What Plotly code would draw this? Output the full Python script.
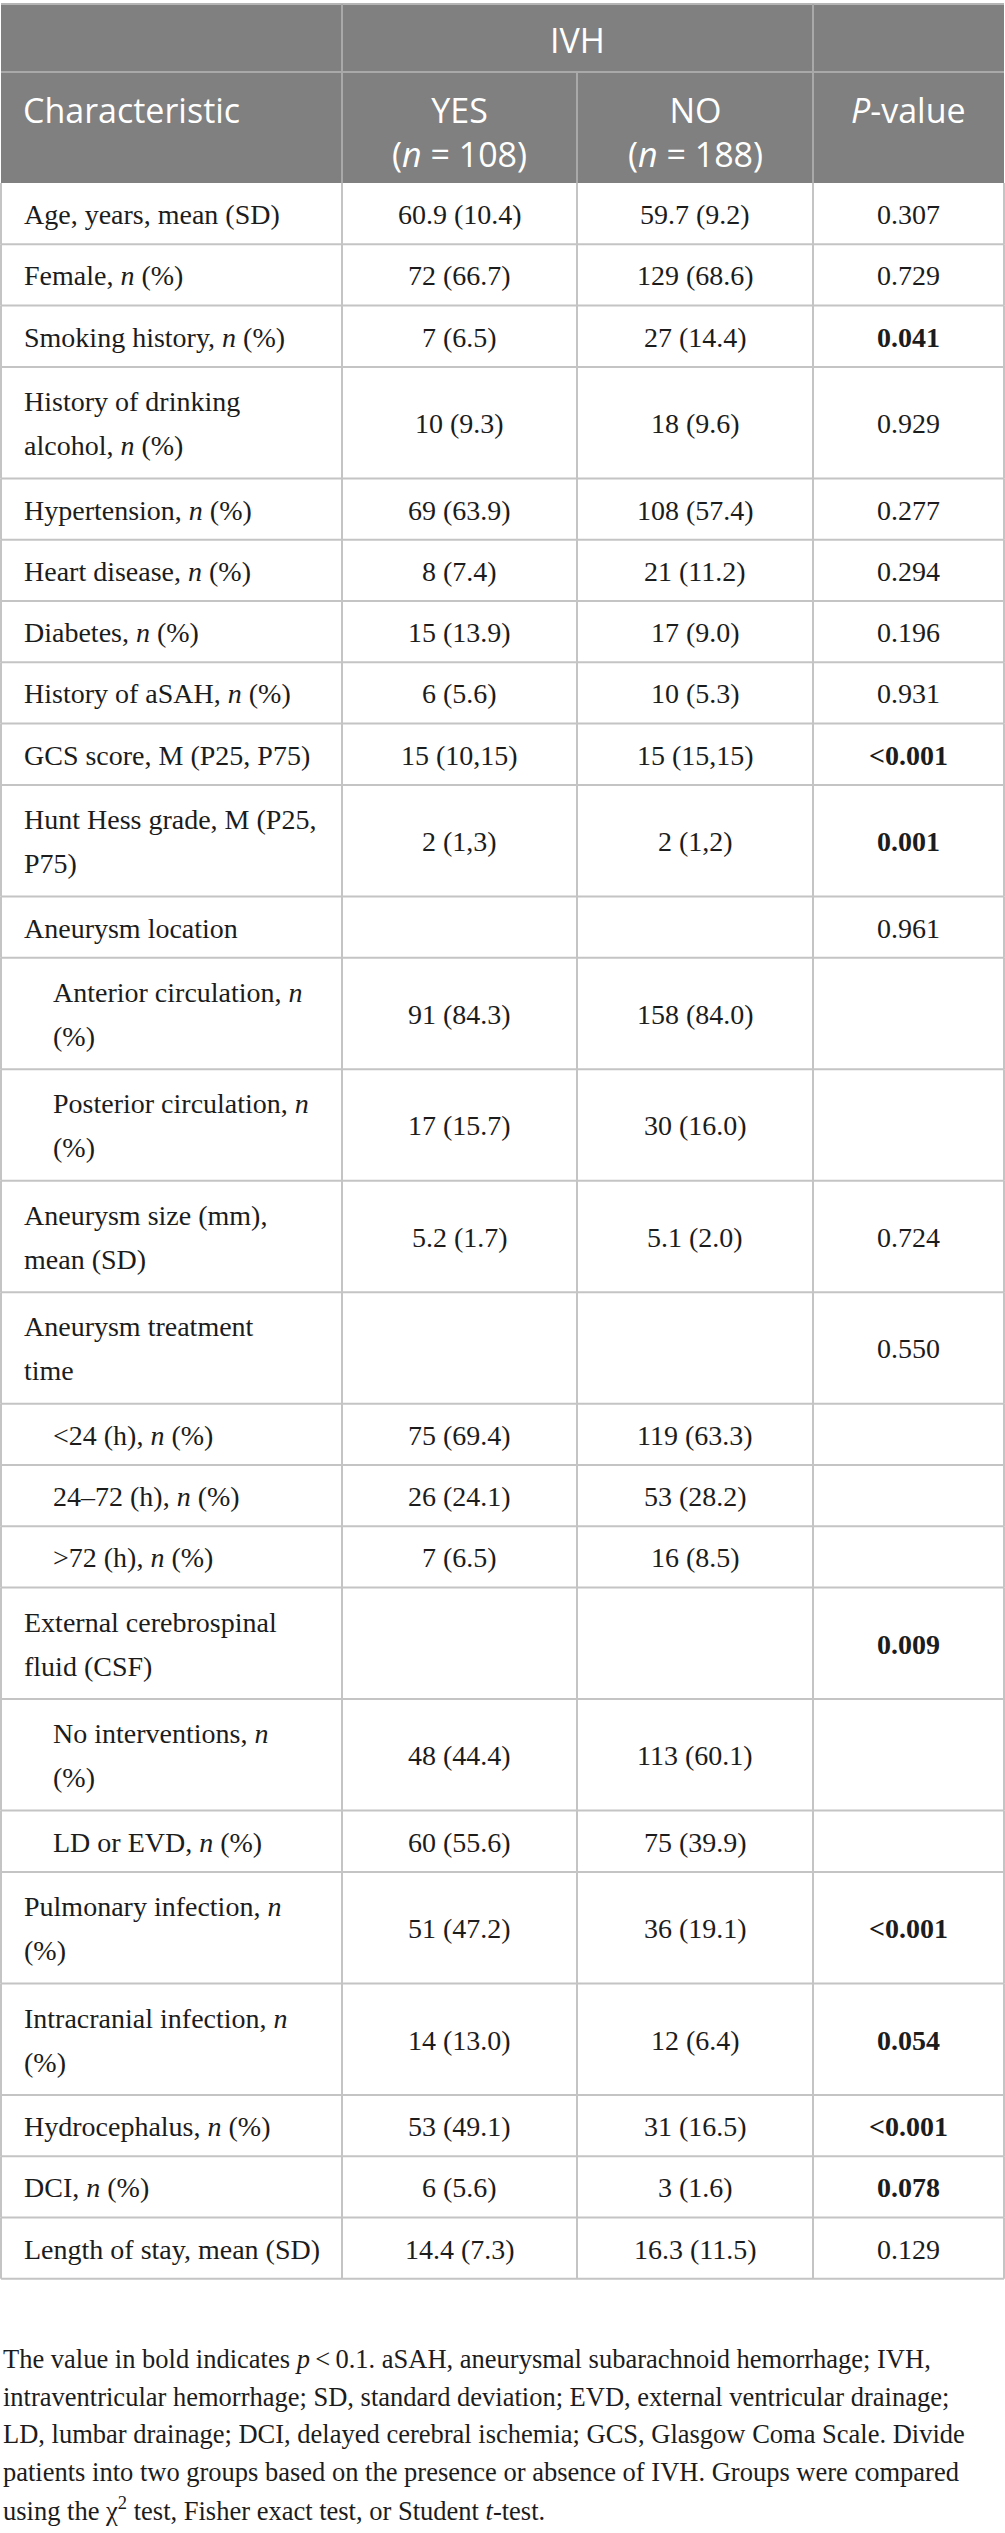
import plotly.graph_objects as go

# ---- table content ----
group_header = "IVH"
col_headers = ["Characteristic", "YES<br>(<i>n</i> = 108)", "NO<br>(<i>n</i> = 188)", "<i>P</i>-value"]

characteristics = [
    "Age, years, mean (SD)",
    "Female, <i>n</i> (%)",
    "Smoking history, <i>n</i> (%)",
    "History of drinking<br>alcohol, <i>n</i> (%)",
    "Hypertension, <i>n</i> (%)",
    "Heart disease, <i>n</i> (%)",
    "Diabetes, <i>n</i> (%)",
    "History of aSAH, <i>n</i> (%)",
    "GCS score, M (P25, P75)",
    "Hunt Hess grade, M (P25,<br>P75)",
    "Aneurysm location",
    "Anterior circulation, <i>n</i><br>(%)",
    "Posterior circulation, <i>n</i><br>(%)",
    "Aneurysm size (mm),<br>mean (SD)",
    "Aneurysm treatment<br>time",
    "&lt;24 (h), <i>n</i> (%)",
    "24–72 (h), <i>n</i> (%)",
    "&gt;72 (h), <i>n</i> (%)",
    "External cerebrospinal<br>fluid (CSF)",
    "No interventions, <i>n</i><br>(%)",
    "LD or EVD, <i>n</i> (%)",
    "Pulmonary infection, <i>n</i><br>(%)",
    "Intracranial infection, <i>n</i><br>(%)",
    "Hydrocephalus, <i>n</i> (%)",
    "DCI, <i>n</i> (%)",
    "Length of stay, mean (SD)",
]
# 1 = sub-category of the row above
sub_level = [0, 0, 0, 0, 0, 0, 0, 0, 0, 0, 0, 1, 1, 0, 0, 1, 1, 1, 0, 1, 1, 0, 0, 0, 0, 0]

ivh_yes = ["60.9 (10.4)", "72 (66.7)", "7 (6.5)", "10 (9.3)", "69 (63.9)", "8 (7.4)",
           "15 (13.9)", "6 (5.6)", "15 (10,15)", "2 (1,3)", "", "91 (84.3)", "17 (15.7)",
           "5.2 (1.7)", "", "75 (69.4)", "26 (24.1)", "7 (6.5)", "", "48 (44.4)",
           "60 (55.6)", "51 (47.2)", "14 (13.0)", "53 (49.1)", "6 (5.6)", "14.4 (7.3)"]
ivh_no = ["59.7 (9.2)", "129 (68.6)", "27 (14.4)", "18 (9.6)", "108 (57.4)", "21 (11.2)",
          "17 (9.0)", "10 (5.3)", "15 (15,15)", "2 (1,2)", "", "158 (84.0)", "30 (16.0)",
          "5.1 (2.0)", "", "119 (63.3)", "53 (28.2)", "16 (8.5)", "", "113 (60.1)",
          "75 (39.9)", "36 (19.1)", "12 (6.4)", "31 (16.5)", "3 (1.6)", "16.3 (11.5)"]
p_values = ["0.307", "0.729", "0.041", "0.929", "0.277", "0.294", "0.196", "0.931",
            "<0.001", "0.001", "0.961", "", "", "0.724", "0.550", "", "", "", "0.009",
            "", "", "<0.001", "0.054", "<0.001", "0.078", "0.129"]

footnote = [
    "The value in bold indicates <i>p</i>\u2009<\u20090.1. aSAH, aneurysmal subarachnoid hemorrhage; IVH,",
    "intraventricular hemorrhage; SD, standard deviation; EVD, external ventricular drainage;",
    "LD, lumbar drainage; DCI, delayed cerebral ischemia; GCS, Glasgow Coma Scale. Divide",
    "patients into two groups based on the presence or absence of IVH. Groups were compared",
    "using the χ<sup>2</sup> test, Fisher exact test, or Student <i>t</i>-test.",
]

# ---- geometry / style ----
W, H = 1005, 2533
col_edges = [1, 342, 577, 813, 1004]
TOP = 4
H_GROUP = 68
H_HEAD = 111
ROW_1 = 61.3      # one-line row
ROW_EXTRA = 50.2  # each extra line
BODY_GAP = 44
HEAD_BG = "#7f807f"
HEAD_LINE = "#a8a9a8"
GRID = "#c4c4c4"
TXT = "#1c1c1c"
SERIF = "Liberation Serif"
SANS = "Open Sans"
BODY_SIZE = 28
HEAD_SIZE = 34

fig = go.Figure()
annots = []
shapes = []


def hline(y, x0=col_edges[0], x1=col_edges[-1], color=GRID):
    shapes.append(dict(type="line", xref="x", yref="y", x0=x0, x1=x1, y0=y, y1=y,
                       line=dict(color=color, width=2)))


def vline(x, y0, y1, color=GRID):
    shapes.append(dict(type="line", xref="x", yref="y", x0=x, x1=x, y0=y0, y1=y1,
                       line=dict(color=color, width=2)))


def text_lines(txt, x, yc, gap, font, anchor="center", bold=False):
    if not txt:
        return
    lines = txt.split("<br>")
    y0 = yc - gap * (len(lines) - 1) / 2
    for k, ln in enumerate(lines):
        if bold:
            ln = "<b>" + ln + "</b>"
        annots.append(dict(x=x, y=y0 + k * gap, xref="x", yref="y", text=ln,
                           showarrow=False, xanchor=anchor, yanchor="middle",
                           font=font))


def head_text(txt, x, y_top, anchor="center"):
    annots.append(dict(x=x, y=y_top, xref="x", yref="y", text=txt, showarrow=False,
                       xanchor=anchor, yanchor="top",
                       font=dict(family=SANS, size=HEAD_SIZE, color="white")))


# header block
head_bottom = TOP + H_GROUP + H_HEAD
shapes.append(dict(type="rect", xref="x", yref="y", x0=col_edges[0], x1=col_edges[-1],
                   y0=TOP, y1=head_bottom, fillcolor=HEAD_BG, line=dict(width=0), layer="below"))
hline(TOP, color="#b5b5b5")
hline(TOP + H_GROUP, color=HEAD_LINE)
vline(col_edges[1], TOP, head_bottom, HEAD_LINE)
vline(col_edges[3], TOP, head_bottom, HEAD_LINE)
vline(col_edges[2], TOP + H_GROUP, head_bottom, HEAD_LINE)

head_text(group_header, (col_edges[1] + col_edges[3]) / 2, TOP + 11)
row2_top = TOP + H_GROUP + 13
head_text(col_headers[0], col_edges[0] + 20, row2_top, anchor="left")
for j in (1, 2, 3):
    head_text(col_headers[j], (col_edges[j] + col_edges[j + 1]) / 2, row2_top)

# body rows
bfont = dict(family=SERIF, size=BODY_SIZE, color=TXT)
y = head_bottom
for i, label in enumerate(characteristics):
    n_lines = len(label.split("<br>"))
    h = ROW_1 + ROW_EXTRA * (n_lines - 1)
    yc = y + h / 2 + 1
    text_lines(label, col_edges[0] + 21 + 29 * sub_level[i], yc, BODY_GAP, bfont, anchor="left")
    text_lines(ivh_yes[i], (col_edges[1] + col_edges[2]) / 2, yc, BODY_GAP, bfont)
    text_lines(ivh_no[i], (col_edges[2] + col_edges[3]) / 2, yc, BODY_GAP, bfont)
    p = p_values[i]
    if p:
        sig = float(p.lstrip("<")) < 0.1
        text_lines(p.replace("<", "&lt;"), (col_edges[3] + col_edges[4]) / 2, yc,
                   BODY_GAP, bfont, bold=sig)
    for x in col_edges:
        vline(x, y, y + h)
    y += h
    hline(y)

# footnote
ffont = dict(family=SERIF, size=26.5, color=TXT)
fy = 2359
for ln in footnote:
    annots.append(dict(x=1, y=fy, xref="x", yref="y", text=ln, showarrow=False,
                       xanchor="left", yanchor="middle", font=ffont))
    fy += 37.5

fig.update_layout(
    width=W, height=H,
    margin=dict(l=0, r=0, t=0, b=0),
    paper_bgcolor="white", plot_bgcolor="white",
    xaxis=dict(range=[0, W], visible=False, fixedrange=True),
    yaxis=dict(range=[H, 0], visible=False, fixedrange=True),
    shapes=shapes, annotations=annots,
    showlegend=False,
)

fig.write_html("out.html", config={"displayModeBar": False},
               post_script="document.body.style.margin = '0';")
